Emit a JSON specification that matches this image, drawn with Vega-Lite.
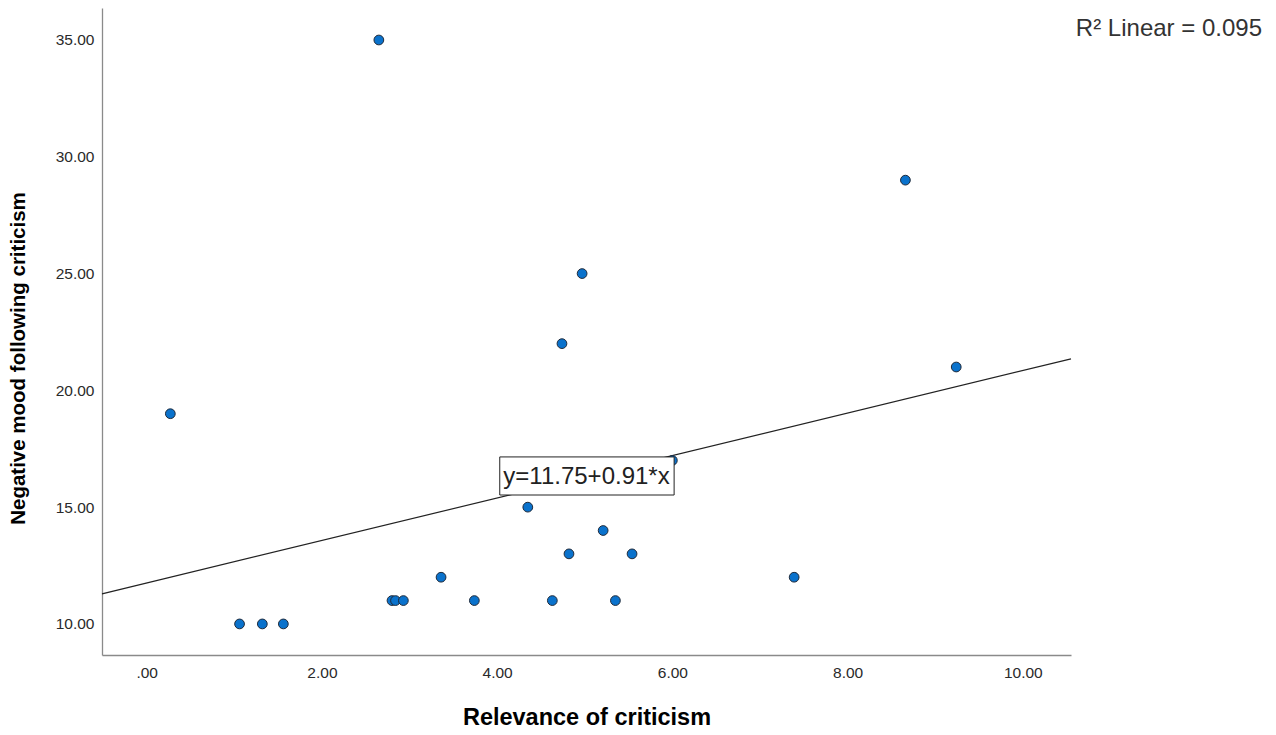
{
  "$schema": "https://vega.github.io/schema/vega-lite/v6.json",
  "width": 969,
  "height": 647,
  "autosize": {"type": "none"},
  "padding": {"left": 102, "top": 8, "right": 205, "bottom": 80},
  "background": "white",
  "config": {
    "view": {"stroke": null},
    "font": "Liberation Sans",
    "axis": {
      "grid": false,
      "ticks": false,
      "domainColor": "#8a8a8a",
      "domainWidth": 1.3,
      "labelColor": "#2a2a2a",
      "labelFontSize": 15.5,
      "labelFont": "Liberation Sans",
      "titleFont": "Liberation Sans",
      "titleFontWeight": "bold",
      "titleColor": "#000000"
    }
  },
  "datasets": {
    "pts": [
      {"relevance": 0.27, "mood": 19},
      {"relevance": 1.06, "mood": 10},
      {"relevance": 1.32, "mood": 10},
      {"relevance": 1.56, "mood": 10},
      {"relevance": 2.65, "mood": 35},
      {"relevance": 2.80, "mood": 11},
      {"relevance": 2.84, "mood": 11},
      {"relevance": 2.93, "mood": 11},
      {"relevance": 3.36, "mood": 12},
      {"relevance": 3.74, "mood": 11},
      {"relevance": 4.35, "mood": 15},
      {"relevance": 4.63, "mood": 11},
      {"relevance": 4.74, "mood": 22},
      {"relevance": 4.82, "mood": 13},
      {"relevance": 4.97, "mood": 25},
      {"relevance": 5.21, "mood": 14},
      {"relevance": 5.35, "mood": 11},
      {"relevance": 5.54, "mood": 13},
      {"relevance": 6.00, "mood": 17},
      {"relevance": 7.39, "mood": 12},
      {"relevance": 8.66, "mood": 29},
      {"relevance": 9.24, "mood": 21}
    ],
    "fit": [
      {"relevance": -0.51, "mood": 11.29},
      {"relevance": 10.55, "mood": 21.35}
    ],
    "box": [
      {"x1": 4.03, "x2": 6.02, "y1": 15.52, "y2": 17.15, "xc": 5.02, "yc": 16.3, "label": "y=11.75+0.91*x"}
    ],
    "r2": [
      {"x": 12.73, "y": 35.45, "label": "R² Linear = 0.095"}
    ]
  },
  "layer": [
    {
      "data": {"name": "fit"},
      "mark": {"type": "line", "color": "#222222", "strokeWidth": 1.2},
      "encoding": {
        "x": {
          "field": "relevance", "type": "quantitative",
          "scale": {"domain": [-0.51, 10.55], "nice": false, "zero": false},
          "axis": {
            "title": "Relevance of criticism",
            "titleFontSize": 23.5,
            "values": [0, 2, 4, 6, 8, 10],
            "labelExpr": "datum.value == 0 ? '.00' : format(datum.value, '.2f')",
            "labelPadding": 10,
            "titlePadding": 25
          }
        },
        "y": {
          "field": "mood", "type": "quantitative",
          "scale": {"domain": [8.67, 36.37], "nice": false, "zero": false},
          "axis": {
            "title": "Negative mood following criticism",
            "titleFontSize": 20.5,
            "titleX": -84,
            "titleY": 350,
            "titleAngle": 270,
            "titleAlign": "center",
            "titleBaseline": "middle",
            "values": [10, 15, 20, 25, 30, 35],
            "format": ".2f",
            "labelPadding": 8
          }
        }
      }
    },
    {
      "data": {"name": "pts"},
      "mark": {"type": "point", "filled": true, "fill": "#0a72cc", "stroke": "#1f2a3a", "strokeWidth": 1, "size": 95, "opacity": 1},
      "encoding": {
        "x": {"field": "relevance", "type": "quantitative"},
        "y": {"field": "mood", "type": "quantitative"}
      }
    },
    {
      "data": {"name": "box"},
      "mark": {"type": "rect", "fill": "white", "stroke": "#222222", "strokeWidth": 1},
      "encoding": {
        "x": {"field": "x1", "type": "quantitative"},
        "x2": {"field": "x2"},
        "y": {"field": "y1", "type": "quantitative"},
        "y2": {"field": "y2"}
      }
    },
    {
      "data": {"name": "box"},
      "mark": {"type": "text", "fontSize": 24, "color": "#222222", "align": "center", "baseline": "middle"},
      "encoding": {
        "x": {"field": "xc", "type": "quantitative"},
        "y": {"field": "yc", "type": "quantitative"},
        "text": {"field": "label"}
      }
    },
    {
      "data": {"name": "r2"},
      "mark": {"type": "text", "fontSize": 24, "color": "#333333", "align": "right", "baseline": "middle"},
      "encoding": {
        "x": {"field": "x", "type": "quantitative"},
        "y": {"field": "y", "type": "quantitative"},
        "text": {"field": "label"}
      }
    }
  ]
}
